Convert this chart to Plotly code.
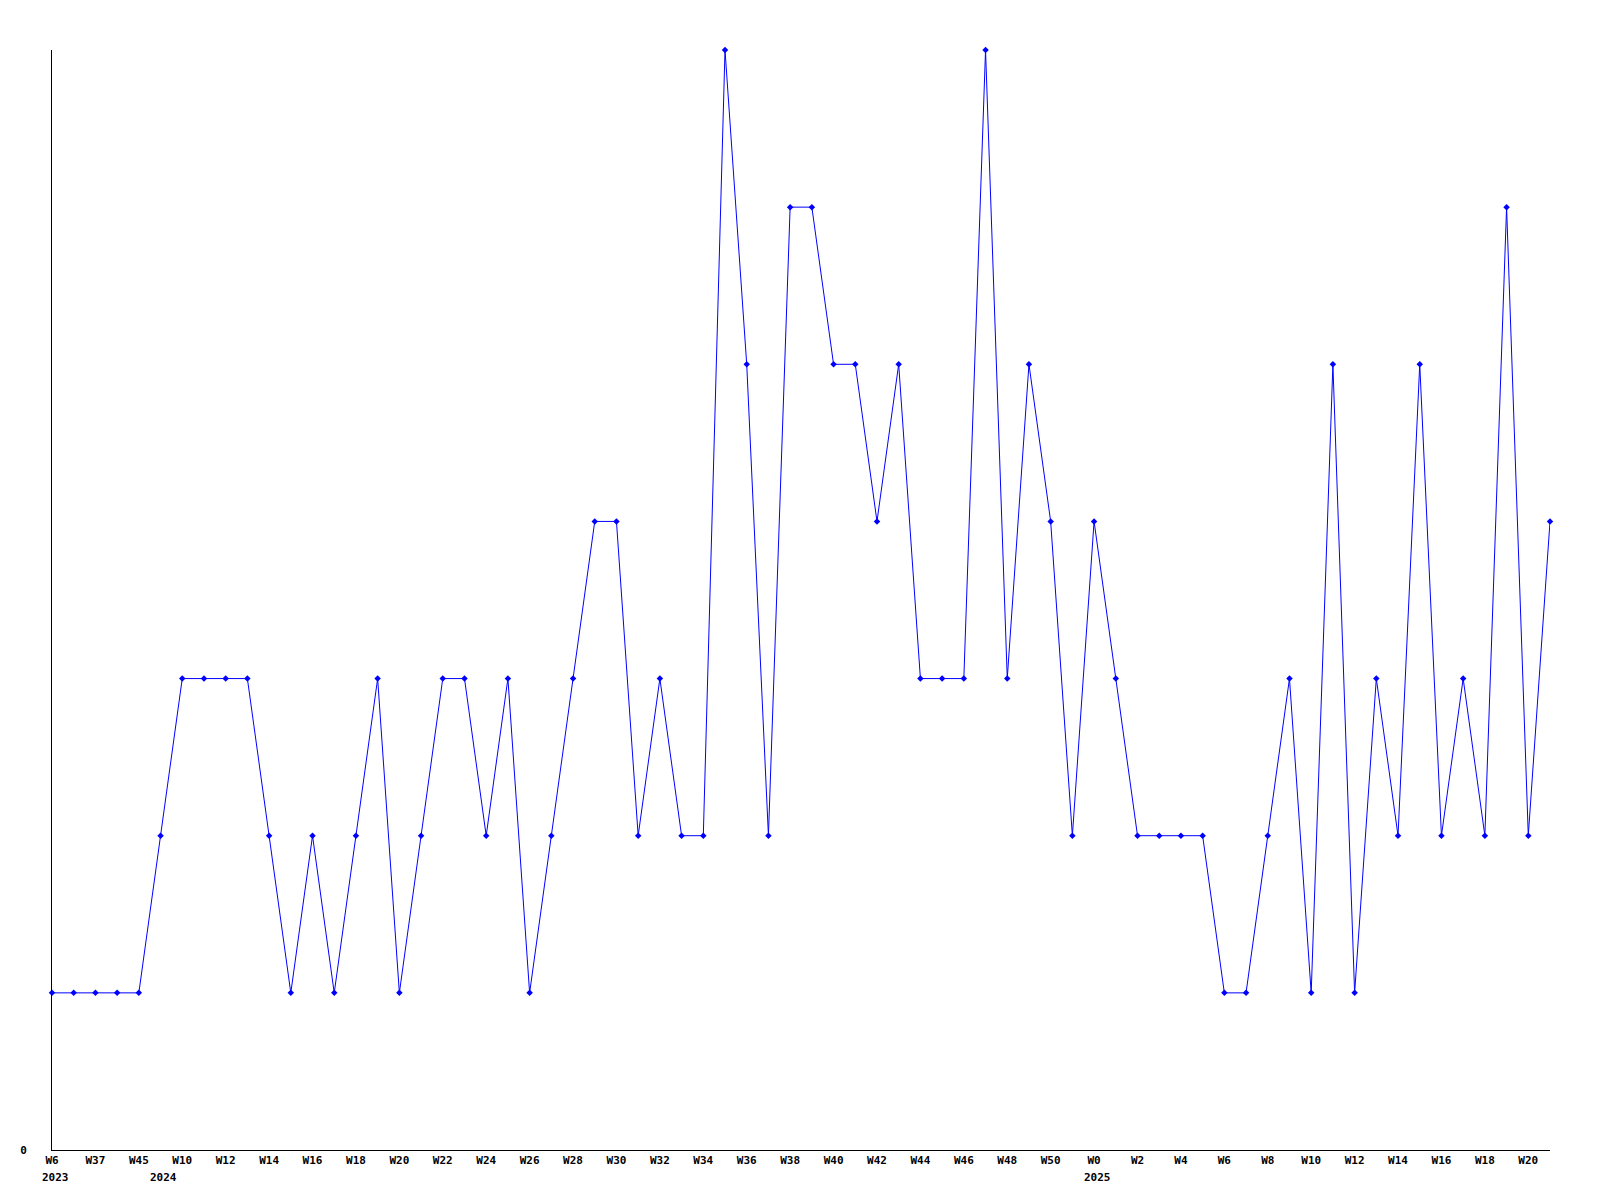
import plotly.graph_objects as go

# Week labels for each point (hidden odd ones are estimates)
weeks = ["W6", "W7", "W37", "W38", "W45", "W9",
         "W10", "W11", "W12", "W13", "W14", "W15", "W16", "W17", "W18", "W19",
         "W20", "W21", "W22", "W23", "W24", "W25", "W26", "W27", "W28", "W29",
         "W30", "W31", "W32", "W33", "W34", "W35", "W36", "W37", "W38", "W39",
         "W40", "W41", "W42", "W43", "W44", "W45", "W46", "W47", "W48", "W49",
         "W50", "W51",
         "W0", "W1", "W2", "W3", "W4", "W5", "W6", "W7", "W8", "W9", "W10",
         "W11", "W12", "W13", "W14", "W15", "W16", "W17", "W18", "W19", "W20", "W21"]

values = [1, 1, 1, 1, 1, 2, 3, 3, 3, 3,
          2, 1, 2, 1, 2, 3, 1, 2, 3, 3,
          2, 3, 1, 2, 3, 4, 4, 2, 3, 2,
          2, 7, 5, 2, 6, 6, 5, 5, 4, 5,
          3, 3, 3, 7, 3, 5, 4, 2, 4, 3,
          2, 2, 2, 2, 1, 1, 2, 3, 1, 5,
          1, 3, 2, 5, 2, 3, 2, 6, 2, 4]

year_index = [0, 5, 48]
year_labels = ["2023", "2024", "2025"]

idx = list(range(len(values)))
tick_idx = idx[::2]
tick_text = [weeks[i] for i in tick_idx]

FONT = dict(family="DejaVu Sans Mono", size=11, color="black", weight="bold")

fig = go.Figure()
fig.add_trace(go.Scatter(
    x=idx, y=values, mode="lines+markers",
    line=dict(color="#0000ff", width=1),
    marker=dict(symbol="diamond", size=5, color="#0000ff"),
    cliponaxis=False,
    hoverinfo="skip",
))

for i, yl in zip(year_index, year_labels):
    fig.add_annotation(x=i, y=0, xref="x", yref="paper", text=yl,
                       showarrow=False, xanchor="center", yanchor="middle",
                       xshift=3, yshift=-27, font=FONT)

fig.update_layout(
    width=1592, height=1192,
    margin=dict(l=42, r=50, t=42, b=50),
    paper_bgcolor="white", plot_bgcolor="white",
    showlegend=False,
    xaxis=dict(range=[0, len(values) - 1], tickvals=tick_idx, ticktext=tick_text,
               showgrid=False, zeroline=False, showline=True, linecolor="black",
               linewidth=1, ticks="", tickfont=FONT, tickangle=0),
    yaxis=dict(range=[0, 7], tickvals=[0], ticktext=["0"],
               showgrid=False, zeroline=False, showline=True, linecolor="black",
               linewidth=1, ticks="", tickfont=FONT, ticklabelstandoff=22),
)

fig.write_html("out.html")
